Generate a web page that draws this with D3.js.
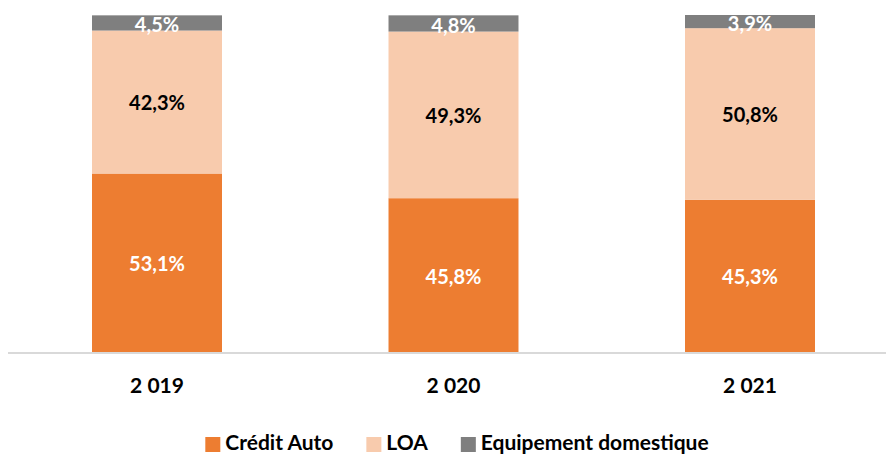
<!DOCTYPE html>
<html><head><meta charset="utf-8">
<script src="https://cdn.jsdelivr.net/npm/d3@7"></script>
<style>body{margin:0;background:#fff}svg{display:block;font-family:Lato,"Noto Sans",sans-serif;font-weight:700}</style>
</head><body><svg id="c" width="886" height="455"></svg>
<script>
const years = ["2 019", "2 020", "2 021"];
const seriesNames = ["Crédit Auto", "LOA", "Equipement domestique"];
const creditAuto = [53.1, 45.8, 45.3];
const loa = [42.3, 49.3, 50.8];
const equipement = [4.5, 4.8, 3.9];
const colors = ["#ED7D31", "#F8CBAD", "#7F7F7F"];
const labelColors = ["#fff", "#000", "#fff"];

const svg = d3.select("#c");
const x = d3.scaleBand().domain(years).range([8.75, 898.25]).paddingInner(0.5616).paddingOuter(0.2808);
const y = d3.scaleLinear().domain([0, 100]).range([353, 15]);

const rows = years.map((yr, i) => ({year: yr, s0: creditAuto[i], s1: loa[i], s2: equipement[i]}));
const stack = d3.stack().keys(["s0", "s1", "s2"])(rows);

stack.forEach((layer, li) => {
  const g = svg.append("g");
  g.selectAll("rect").data(layer).join("rect")
    .attr("x", d => x(d.data.year))
    .attr("width", x.bandwidth())
    .attr("y", d => y(d[1]))
    .attr("height", d => y(d[0]) - y(d[1]))
    .attr("fill", colors[li]);
  g.selectAll("text").data(layer).join("text")
    .attr("x", d => x(d.data.year) + x.bandwidth() / 2)
    .attr("y", d => (y(d[0]) + y(d[1])) / 2 + (li === 2 ? 1.5 : 0))
    .attr("text-anchor", "middle")
    .attr("dominant-baseline", "central")
    .attr("font-size", 20)
    .attr("fill", labelColors[li])
    .text(d => (d[1] - d[0]).toFixed(1).replace(".", ",") + "%");
});

svg.append("line").attr("x1", 8).attr("x2", 886).attr("y1", 353).attr("y2", 353)
  .attr("stroke", "#D9D9D9").attr("stroke-width", 2);

const xAxis = d3.axisBottom(x).tickSize(0).tickPadding(0);
const ax = svg.append("g").attr("transform", "translate(0,384.5)").call(xAxis);
ax.select(".domain").remove();
ax.selectAll("text").attr("font-size", 21).attr("font-family", "Lato,'Noto Sans',sans-serif")
  .attr("font-weight", 700).attr("fill", "#000").attr("dy", null).attr("dominant-baseline", "central");

const leg = svg.append("g");
const items = [];
seriesNames.forEach((n, i) => {
  const it = leg.append("g");
  it.append("rect").attr("x", 0).attr("y", 437).attr("width", 15).attr("height", 15).attr("fill", colors[i]);
  const t = it.append("text").attr("x", 20).attr("y", 450).attr("font-size", 21).attr("fill", "#000").text(n);
  items.push({it, w: 20 + t.node().getComputedTextLength()});
});
const gap = 33;
const total = d3.sum(items, d => d.w) + gap * (items.length - 1);
let pos = 457 - total / 2;
items.forEach(d => { d.it.attr("transform", `translate(${pos},0)`); pos += d.w + gap; });
</script></body></html>
